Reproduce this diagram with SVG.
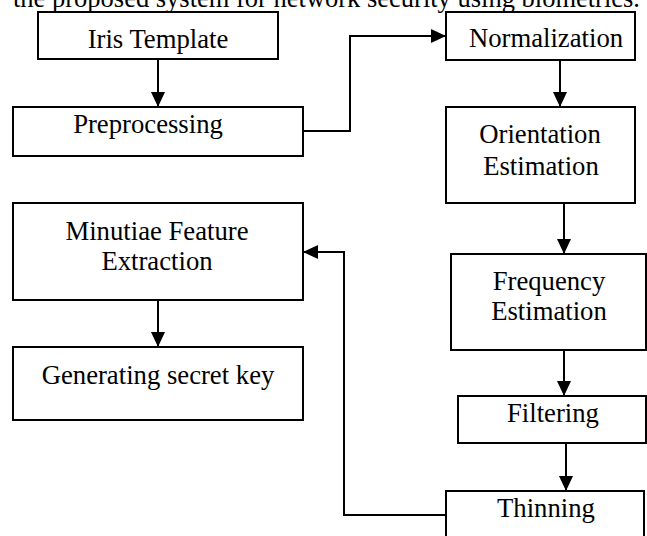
<svg xmlns="http://www.w3.org/2000/svg" width="647" height="536" viewBox="0 0 647 536">
<defs>
<style>
.box{fill:#fff;stroke:#000;stroke-width:2}
.t{font-family:"Liberation Serif","Times New Roman",serif;font-size:26.7px;fill:#000;text-anchor:middle}
.c{fill:none;stroke:#000;stroke-width:2}
</style>
<marker id="ah" markerUnits="userSpaceOnUse" markerWidth="15" markerHeight="14" refX="15" refY="7" orient="auto">
<path d="M0,0 L15,7 L0,14 z" fill="#000"/>
</marker>
</defs>
<rect width="647" height="536" fill="#fff"/>
<text x="13" y="7" class="t" style="text-anchor:start" textLength="627" lengthAdjust="spacingAndGlyphs">the proposed system for network security using biometrics.</text>
<g id="connectors">
<path class="c" d="M158,59 V107" marker-end="url(#ah)"/>
<path class="c" d="M303,131 H350 V36 H446" marker-end="url(#ah)"/>
<path class="c" d="M560,60 V107" marker-end="url(#ah)"/>
<path class="c" d="M564,203 V254" marker-end="url(#ah)"/>
<path class="c" d="M564,350 V396" marker-end="url(#ah)"/>
<path class="c" d="M566,443 V491" marker-end="url(#ah)"/>
<path class="c" d="M446,515 H344 V252 H303" marker-end="url(#ah)"/>
<path class="c" d="M158,300 V347" marker-end="url(#ah)"/>
</g>
<g id="iris"><rect class="box" x="38" y="12" width="240" height="47"/><text class="t" x="158" y="48">Iris Template</text></g>
<g id="preprocessing"><rect class="box" x="13" y="107" width="290" height="49"/><text class="t" x="148" y="133">Preprocessing</text></g>
<g id="normalization"><rect class="box" x="446" y="12" width="189" height="48"/><text class="t" x="546" y="47">Normalization</text></g>
<g id="orientation"><rect class="box" x="446" y="107" width="189" height="96"/><text class="t" x="540" y="143">Orientation</text><text class="t" x="541" y="175">Estimation</text></g>
<g id="minutiae"><rect class="box" x="13" y="203" width="290" height="97"/><text class="t" x="157" y="240">Minutiae Feature</text><text class="t" x="157" y="270">Extraction</text></g>
<g id="generating"><rect class="box" x="13" y="347" width="290" height="73"/><text class="t" x="158" y="384">Generating secret key</text></g>
<g id="frequency"><rect class="box" x="451" y="254" width="195" height="96"/><text class="t" x="549" y="290">Frequency</text><text class="t" x="549" y="320">Estimation</text></g>
<g id="filtering"><rect class="box" x="458" y="396" width="188" height="47"/><text class="t" x="553" y="422">Filtering</text></g>
<g id="thinning"><rect class="box" x="446" y="491" width="198" height="60"/><text class="t" x="546" y="517">Thinning</text></g>
</svg>
